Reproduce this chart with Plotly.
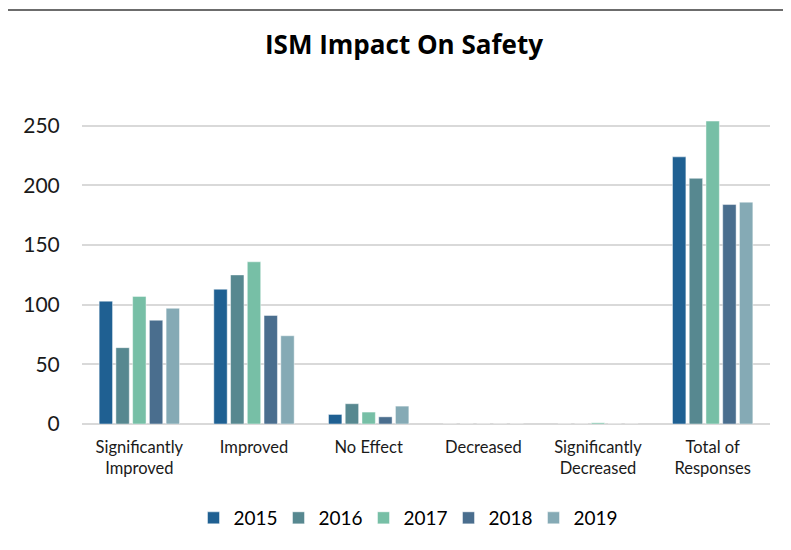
import plotly.graph_objects as go

categories = ["Significantly<br>Improved", "Improved", "No Effect", "Decreased",
              "Significantly<br>Decreased", "Total of<br>Responses"]
years = ["2015", "2016", "2017", "2018", "2019"]
v2015 = [103, 113, 8, 0, 0, 224]
v2016 = [64, 125, 17, 0, 0, 206]
v2017 = [107, 136, 10, 0, 1, 254]
v2018 = [87, 91, 6, 0, 0, 184]
v2019 = [97, 74, 15, 0, 0, 186]
series = [v2015, v2016, v2017, v2018, v2019]
colors = ["#1f6092", "#578890", "#77bfa6", "#4a6e8e", "#85aab5"]

FONT = "Lato, 'Open Sans', sans-serif"
W, H = 783, 542  # page body has an 8px margin

fig = go.Figure()
for name, vals, c in zip(years, series, colors):
    fig.add_trace(go.Bar(
        x=categories, y=vals, name=name,
        marker=dict(color=c, line=dict(color="rgba(255,255,255,0.45)", width=1)),
    ))

fig.update_layout(
    width=W, height=H,
    margin=dict(l=74, r=21, t=94, b=126, autoexpand=False),
    paper_bgcolor="white", plot_bgcolor="white",
    barmode="group", bargap=0.27, bargroupgap=0.2,
    font=dict(family=FONT, color="#1a1a1a"),
    title=dict(text="<b>ISM Impact On Safety</b>", x=396/W, xanchor="center",
               y=1-37/H, yanchor="middle",
               font=dict(size=26, color="#000000", family="'Open Sans', sans-serif")),
    xaxis=dict(showgrid=False, showline=False, ticks="outside", ticklen=8,
               tickcolor="rgba(0,0,0,0)", tickangle=0, automargin=False,
               tickfont=dict(size=16.5, color="#1a1a1a")),
    yaxis=dict(range=[0, 270], dtick=50, tick0=0, showgrid=True, gridcolor="#d9d9d9", gridwidth=1.5,
               zeroline=True, zerolinecolor="#d9d9d9", zerolinewidth=1.5, automargin=False,
               showline=False, ticks="outside", ticklen=17, tickcolor="rgba(0,0,0,0)",
               tickfont=dict(size=21, color="#1a1a1a")),
    legend=dict(orientation="h", x=(406-82)/688, xanchor="center",
                y=(424-518)/322, yanchor="middle", font=dict(size=19, color="#000000"),
                traceorder="normal", entrywidth=40, entrywidthmode="pixels"),
    shapes=[dict(type="rect", xref="paper", yref="paper",
                 x0=(5-82)/688, x1=(830-82)/688, y0=(424-600)/322, y1=(424-10)/322,
                 line=dict(color="#3c3c3c", width=1.5), fillcolor="rgba(0,0,0,0)", layer="below")],
)

fig.write_html("out.html")
